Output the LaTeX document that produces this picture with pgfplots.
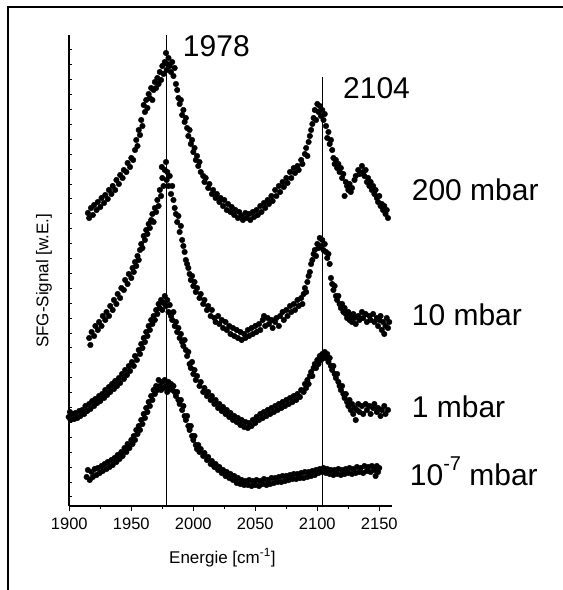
\documentclass[border=0pt]{standalone}
\usepackage{pgfplots}
\pgfplotsset{compat=1.18}
\usepackage{fontspec}
\setmainfont{Liberation Sans}

\newcommand{\bigfont}{\fontsize{30bp}{36bp}\selectfont}
\pgfplotsset{dots/.style={black, only marks, mark=*, mark size=2.8pt}}

\begin{document}
\begin{tikzpicture}
\path[use as bounding box] (0bp,0bp) rectangle (563bp,590bp);
\draw[line width=2.2bp] (8bp,0bp) -- (8bp,583bp) -- (563bp,583bp);
% y axis with short inward ticks, no labels
\begin{axis}[
  at={(69.3bp,84bp)}, anchor=south west, scale only axis,
  width=322.4bp, height=471bp,
  xmin=1900, xmax=2160, ymin=0, ymax=471,
  hide x axis, axis y line*=left, axis line style={line width=1.6bp},
  ytick={9,23.9,...,457}, yticklabels={},
  tick align=inside, major tick length=2.5bp,
  tick style={line width=1bp, black},
]
\end{axis}
\begin{axis}[
  at={(69.3bp,84bp)}, anchor=south west, scale only axis,
  width=322.4bp, height=471bp,
  xmin=1900, xmax=2160, ymin=0, ymax=471,
  axis lines*=left, axis line style={line width=1.6bp},
  clip=false,
  xtick={1900,1950,...,2150}, minor x tick num=1,
  ytick=\empty,
  tick align=outside, major tick length=5bp, minor tick length=3bp,
  tick style={line width=1.2bp, black},
  /pgf/number format/assume math mode=true,
  xticklabel style={font=\fontsize{16.5bp}{18bp}\selectfont, /pgf/number format/1000 sep={}, yshift=-3bp},
  xlabel={Energie [cm\textsuperscript{-1}]},
  xlabel style={font=\fontsize{17bp}{20bp}\selectfont, at={(axis description cs:0.475,0)}, anchor=base, yshift=-57bp},
  ylabel={SFG-Signal [w.E.]},
  ylabel style={font=\fontsize{17bp}{20bp}\selectfont, at={(axis description cs:-0.0785,0.478)}, anchor=center},
]
% reference lines
\addplot[black, mark=none, line width=1bp] coordinates {(1978,0) (1978,471)};
\addplot[black, mark=none, line width=1bp] coordinates {(2104,0) (2104,429)};

% 200 mbar
\addplot[dots] coordinates {
(1915,293) (1916,288) (1917.5,298) (1919,291) (1920,301) (1922,296) (1923,304) (1925,299) (1926,308) (1928,303)
(1929,311) (1931,307) (1932,316) (1934,312) (1935,320) (1937,316) (1938,326) (1940,322) (1941,331) (1943,328)
(1944,336) (1946,334) (1947,343) (1949,339) (1950,348) (1951.5,346) (1953,356) (1954,366) (1955,360) (1956,376)
(1957,371) (1958,386) (1959,380) (1960,401) (1961,394) (1962,406) (1963,398) (1964,412) (1965,408) (1966,418)
(1967,406) (1968,416) (1969,424) (1970,418) (1971,428) (1972,422) (1973,434) (1974,426) (1975,440) (1976,432)
(1977,444) (1978,453) (1978.5,436) (1979,442) (1980,448) (1981,440) (1982,434) (1983,444) (1984,430) (1985,438)
(1986,422) (1987,416) (1988,408) (1989,402) (1990,406) (1991,391) (1992,396) (1993,384) (1994,388) (1995,378)
(1996,370) (1997,376) (1998,362) (1999,366) (2000,354) (2001,358) (2002,346) (2003,350) (2004,340) (2005,344)
(2006,334) (2008,330) (2009,324) (2010,328) (2012,318) (2013,322) (2015,312) (2016,316) (2018,308) (2019,312)
(2021,304) (2022,308) (2024,300) (2025,306) (2027,296) (2028,302) (2030,294) (2031,299) (2033,291) (2034,296)
(2036,288) (2037,294) (2039,290) (2040,286) (2042,293) (2043,288) (2045,292) (2046,286) (2048,294) (2049,289)
(2051,296) (2052,291) (2054,300) (2055,294) (2057,303) (2058,298) (2060,306) (2061,302) (2063,310) (2064,305)
(2066,316) (2067,310) (2069,320) (2070,314) (2072,324) (2073,319) (2075,328) (2076,323) (2078,334) (2079,328)
(2081,338) (2082,333) (2084,340) (2085,336) (2087,346) (2088,342) (2090,352) (2091,358) (2092,350) (2093,364)
(2094,370) (2095,376) (2096,382) (2097,388) (2098,396) (2099,386) (2100,402) (2101,394) (2102,400) (2103,390)
(2104,396) (2105,386) (2106,392) (2107,380) (2108,368) (2109,374) (2110,362) (2111,366) (2112,356) (2113,348)
(2114,342) (2115,346) (2116,338) (2117,342) (2118,334) (2119,338) (2120,328) (2121,332) (2122,310) (2123,324)
(2124,320) (2125,316) (2126,322) (2127,314) (2128,318) (2130,326) (2131,330) (2133,336) (2134,332) (2136,340)
(2137,334) (2138,330) (2139,336) (2140,324) (2141,328) (2142,320) (2143,324) (2144,316) (2145,320) (2146,312)
(2147,316) (2148,308) (2149,304) (2150,310) (2151,300) (2152,302) (2153,296) (2154,300) (2155,292) (2156,296)
(2157,288)
};

% 10 mbar
\addplot[dots] coordinates {
(1916,168) (1917,161) (1918,174) (1920,170) (1921,180) (1923,176) (1924,184) (1926,180) (1927,190) (1929,186)
(1930,194) (1932,190) (1933,200) (1935,196) (1936,206) (1938,202) (1939,212) (1941,208) (1942,218) (1944,216)
(1945,226) (1947,222) (1948,232) (1950,228) (1951,238) (1952,234) (1953,244) (1954,240) (1955,250) (1956,246)
(1957,256) (1958,262) (1959,258) (1960,270) (1961,266) (1962,276) (1963,272) (1964,282) (1965,278) (1966,286)
(1967,292) (1968,284) (1969,298) (1970,294) (1971,306) (1972,300) (1973,316) (1974,310) (1974.6,339) (1975,328)
(1976,320) (1977,336) (1978,344) (1978.5,326) (1979,334) (1980,320) (1981,330) (1982,312) (1983,320) (1984,306)
(1985,298) (1986,292) (1987,284) (1988,290) (1989,274) (1990,280) (1991,266) (1992,260) (1993,254) (1994,246)
(1995,242) (1996,238) (1997,232) (1998,226) (1999,230) (2000,220) (2001,224) (2002,214) (2003,218) (2005,208)
(2006,212) (2008,202) (2009,206) (2011,196) (2012,200) (2014,190) (2015,196) (2017,188) (2018,184) (2020,190)
(2021,182) (2023,186) (2024,178) (2026,184) (2027,176) (2029,180) (2030,172) (2032,178) (2033,170) (2035,176)
(2036,168) (2038,174) (2039,166) (2041,172) (2042,168) (2044,176) (2045,170) (2047,178) (2048,172) (2050,180)
(2051,174) (2053,182) (2054,176) (2056,186) (2057,190) (2058,180) (2060,188) (2061,182) (2063,186) (2064,178)
(2066,184) (2067,188) (2069,180) (2070,190) (2072,194) (2073,186) (2075,196) (2076,190) (2078,200) (2079,194)
(2081,202) (2082,196) (2084,206) (2085,200) (2087,208) (2088,202) (2089,212) (2090,218) (2091,214) (2092,224)
(2093,230) (2094,234) (2095,242) (2096,246) (2097,252) (2098,256) (2099,250) (2100,262) (2101,258) (2102,268)
(2103,260) (2104,266) (2105,256) (2106,262) (2107,254) (2108,248) (2109,252) (2110,242) (2111,228) (2112,222)
(2113,216) (2114,220) (2115,210) (2116,206) (2117,210) (2118,202) (2119,198) (2120,202) (2121,194) (2122,198)
(2123,192) (2124,188) (2125,194) (2126,186) (2127,190) (2128,184) (2129,192) (2130,188) (2131,182) (2133,190)
(2134,186) (2136,194) (2137,188) (2139,192) (2140,184) (2142,190) (2143,186) (2145,192) (2146,184) (2148,188)
(2149,180) (2150,186) (2151,190) (2152,176) (2153,184) (2154,172) (2155,180) (2156,188) (2157,178) (2158,184)
};

% 1 mbar
\addplot[dots] coordinates {
(1899.5,89) (1900.5,94) (1901,86) (1902.5,92) (1904,87) (1905,93) (1906.5,88) (1908,95) (1909,90) (1910.5,96)
(1912,92) (1913,100) (1914.5,95) (1916,102) (1917,97) (1918.5,105) (1920,100) (1921,107) (1922.5,103) (1924,110)
(1925,105) (1926.5,112) (1928,108) (1929,116) (1930.5,111) (1932,119) (1933,114) (1934.5,122) (1936,117) (1937,125)
(1938.5,120) (1940,128) (1941,123) (1942.5,132) (1944,127) (1945,136) (1946.5,131) (1948,140) (1949,135) (1950.5,144)
(1952,140) (1953,150) (1954.5,146) (1956,156) (1957,152) (1958,162) (1959,158) (1960,168) (1961,164) (1962,174)
(1963,170) (1964,180) (1965,176) (1966,186) (1967,182) (1968,190) (1969,186) (1970,196) (1971,192) (1972,202)
(1973,198) (1974,206) (1975,196) (1976,203) (1977,210) (1978,200) (1979,206) (1980,194) (1981,201) (1982,190)
(1983,186) (1984,194) (1985,180) (1986,184) (1987,174) (1988,178) (1989,168) (1990,172) (1991,164) (1992,160)
(1993,166) (1994,156) (1995,150) (1996,154) (1997,142) (1998,138) (1999,144) (2000,132) (2001,136) (2002,126)
(2003,130) (2005,120) (2006,124) (2008,114) (2009,118) (2011,110) (2012,114) (2014,106) (2015,110) (2017,102)
(2018,106) (2020,98) (2021,102) (2023,95) (2024,99) (2026,92) (2027,96) (2029,89) (2030,93) (2032,86)
(2033,90) (2035,84) (2036,88) (2038,81) (2039,86) (2041,79) (2042,84) (2044,78) (2045,83) (2047,80)
(2048,86) (2050,83) (2051,89) (2053,86) (2054,92) (2056,88) (2057,94) (2059,90) (2060,96) (2062,92)
(2063,98) (2065,94) (2066,100) (2068,96) (2069,102) (2071,98) (2072,104) (2074,100) (2075,106) (2077,102)
(2078,108) (2080,104) (2081,110) (2083,106) (2084,112) (2086,109) (2087,116) (2089,114) (2090,122) (2091,118)
(2092,126) (2093,122) (2094,130) (2095,134) (2096,130) (2097,138) (2098,142) (2099,138) (2100,146) (2101,142)
(2102,150) (2103,146) (2104,152) (2105,148) (2106,154) (2107,148) (2108,152) (2109,144) (2110,148) (2111,140)
(2112,136) (2113,140) (2114,132) (2115,128) (2116,132) (2117,124) (2118,120) (2119,116) (2120,120) (2121,112)
(2122,108) (2123,112) (2124,104) (2125,100) (2126,106) (2127,96) (2128,102) (2129,92) (2130,98) (2131,86)
(2132,96) (2133,102) (2134,94) (2136,100) (2137,92) (2139,102) (2140,96) (2142,100) (2143,92) (2145,98)
(2146,102) (2148,94) (2149,98) (2151,90) (2152,96) (2154,100) (2155,92) (2157,96)
};

% 10^-7 mbar
\addplot[dots] coordinates {
(1914,29) (1915,36) (1916.5,26) (1918,34) (1919,29) (1920.5,37) (1922,31) (1923,38) (1924.5,33) (1926,40)
(1927,35) (1928.5,42) (1930,37) (1931,44) (1932.5,39) (1934,46) (1935,41) (1936.5,48) (1938,44) (1939,51)
(1940.5,47) (1942,54) (1943,50) (1944.5,58) (1946,54) (1947,62) (1948.5,58) (1950,66) (1951,62) (1952,70)
(1953,66) (1954,76) (1955,72) (1956,80) (1957,76) (1958,86) (1959,82) (1960,92) (1961,88) (1962,98)
(1963,94) (1964,104) (1965,100) (1966,110) (1967,106) (1968,116) (1969,112) (1970,120) (1971,116) (1972,126)
(1973,120) (1974,116) (1975,124) (1976,118) (1977,126) (1978,120) (1979,114) (1980,124) (1981,118) (1982,122)
(1983,116) (1984,120) (1985,114) (1986,110) (1987,114) (1988,106) (1989,102) (1990,106) (1991,96) (1992,100)
(1993,90) (1994,86) (1995,90) (1996,80) (1997,76) (1998,80) (1999,70) (2000,66) (2001,70) (2002,61)
(2003,57) (2004,61) (2005,54) (2006,57) (2008,50) (2009,53) (2011,46) (2012,49) (2014,42) (2015,45)
(2017,39) (2018,42) (2020,36) (2021,39) (2023,33) (2024,36) (2026,30) (2027,34) (2029,28) (2030,32)
(2032,26) (2033,30) (2035,23) (2036,28) (2038,22) (2039,26) (2041,21) (2042,25) (2044,21) (2045,26)
(2047,20) (2048,25) (2050,21) (2051,26) (2053,20) (2054,25) (2056,22) (2057,27) (2059,21) (2060,26)
(2062,22) (2063,28) (2065,23) (2066,28) (2068,24) (2069,29) (2071,24) (2072,30) (2074,25) (2075,30)
(2077,26) (2078,31) (2080,27) (2081,32) (2083,27) (2084,32) (2086,28) (2087,33) (2089,28) (2090,34)
(2092,29) (2093,34) (2095,30) (2096,35) (2098,31) (2099,36) (2101,33) (2102,37) (2104,34) (2105,38)
(2107,33) (2108,37) (2110,32) (2111,36) (2113,31) (2114,36) (2116,32) (2117,37) (2119,31) (2120,36)
(2122,32) (2123,37) (2125,33) (2126,38) (2128,32) (2129,37) (2131,33) (2132,39) (2134,34) (2135,38)
(2137,33) (2138,40) (2140,35) (2141,39) (2143,34) (2144,40) (2146,36) (2147,30) (2148,40) (2149,34)
(2150,38)
};

% annotations
\node[anchor=base west, inner sep=0pt, font=\bigfont] at (axis cs:1991.5,449) {1978};
\node[anchor=base west, inner sep=0pt, font=\bigfont] at (axis cs:2120.7,407) {2104};
\node[anchor=base west, inner sep=0pt, font=\bigfont] at (axis cs:2176.1,305) {200 mbar};
\node[anchor=base west, inner sep=0pt, font=\bigfont] at (axis cs:2176.1,180) {10 mbar};
\node[anchor=base west, inner sep=0pt, font=\bigfont] at (axis cs:2176.1,88) {1 mbar};
\node[anchor=base west, inner sep=0pt, font=\bigfont] at (axis cs:2174.5,21) {10\raisebox{0.5em}{\fontsize{20bp}{20bp}\selectfont -7} mbar};
\end{axis}
\end{tikzpicture}
\end{document}
